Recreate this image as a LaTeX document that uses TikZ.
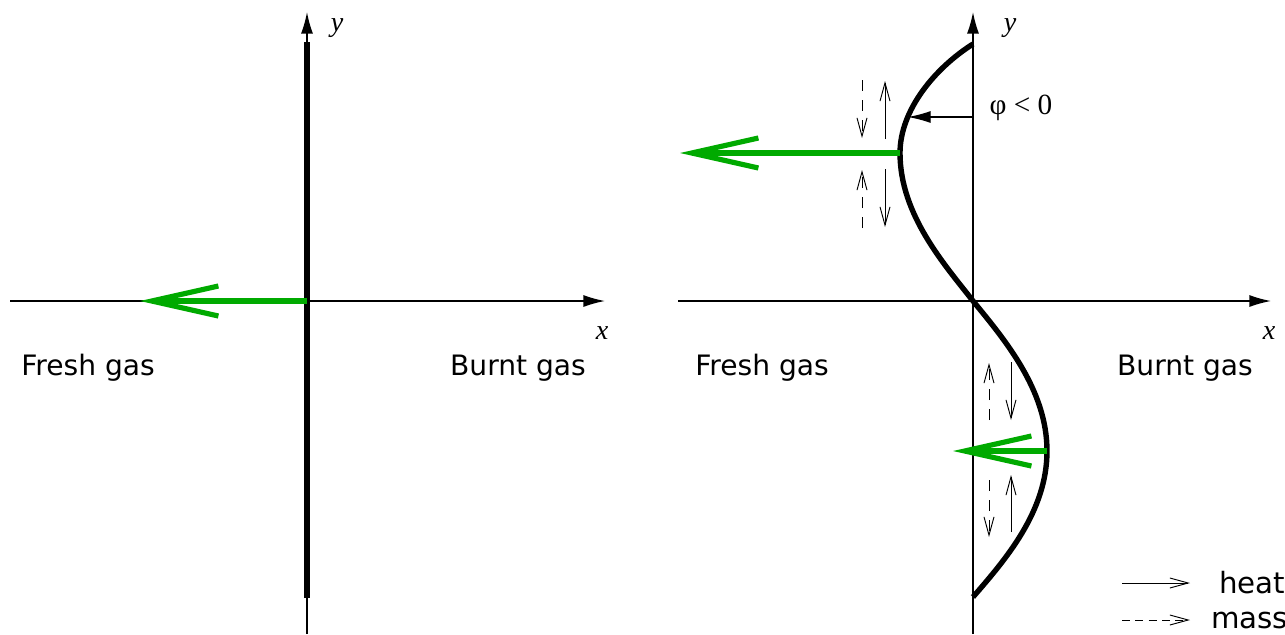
\documentclass[tikz,border=0pt]{standalone}
\usepackage{fontspec}
\setmainfont{Liberation Serif}
\setsansfont{DejaVu Sans}
\usepackage{xcolor}
\usepackage{tikz}
\usetikzlibrary{arrows.meta, positioning, calc}

\definecolor{flowgreen}{RGB}{0,170,0}

\begin{document}
\begin{tikzpicture}[
    x=0.3mm, y=-0.3mm,
    axis/.style={line width=1.2pt, -{Latex[length=6.5mm, width=3.6mm]}},
    flame/.style={line width=4.6pt},
    flow/.style={draw=flowgreen, line width=4.4pt, -{Straight Barb[length=20mm, width=9mm]}},
    heat/.style={line width=0.8pt, -{Straight Barb[length=5.5mm, width=3mm]}},
    mass/.style={heat, dash pattern=on 3.4mm off 2.6mm},
    legmass/.style={heat, dash pattern=on 2.4mm off 1.6mm},
    speed/.style={line width=0.9pt, -{Latex[length=6.8mm, width=3.6mm]}},
    gaslabel/.style={font=\sffamily\fontsize{24}{28}\selectfont, inner sep=0pt},
    axlabel/.style={font=\itshape\fontsize{24}{28}\selectfont, inner sep=0pt},
    leglabel/.style={font=\sffamily\fontsize{25}{28}\selectfont, inner sep=0pt, anchor=west}
]
\useasboundingbox (0,0) rectangle (1285,634);

% planar flame
\coordinate (Lbot) at (307,634);
\coordinate (Ltop) at (307,12);
\coordinate (Lleft) at (10,301);
\coordinate (Lright) at (605,301);
\coordinate (Lflamebot) at (307,598);
\coordinate (Lflametop) at (307,42);
\coordinate (Lorig) at (307,301);
\coordinate (Lfresh) at (140,301);

\draw[axis] (Lbot) -- (Ltop);
\draw[axis] (Lleft) -- (Lright);
\draw[flame] (Lflamebot) -- (Lflametop);
\draw[flow] (Lorig) -- (Lfresh);

\node[axlabel] (Lx) at (602,333) {x};
\node[axlabel] (Ly) at (337,28) {y};
\node[gaslabel] (Lfreshlab) at (88,368) {Fresh gas};
\node[gaslabel] (Lburntlab) at (518,368) {Burnt gas};

% wrinkled flame
\coordinate (Rbot) at (973,634);
\coordinate (Rtop) at (973,12);
\coordinate (Rleft) at (678,301);
\coordinate (Rright) at (1271,301);

\draw[axis] (Rbot) -- (Rtop);
\draw[axis] (Rleft) -- (Rright);
\draw[flame] (973,44) .. controls (935,68) and (900,110) .. (900,153)
    .. controls (900,215) and (945,265) .. (973,301)
    .. controls (1005,340) and (1047,390) .. (1047,451)
    .. controls (1047,512) and (1005,560) .. (973,597);

\coordinate (Rcrest) at (900,153);
\coordinate (Rcresttip) at (680,153);
\coordinate (Rtrough) at (1047,451);
\coordinate (Rtroughtip) at (953,451);
\draw[flow] (Rcrest) -- (Rcresttip);
\draw[flow] (Rtrough) -- (Rtroughtip);

\coordinate (Sfrom) at (973,117);
\coordinate (Sto) at (908,117);
\draw[speed] (Sfrom) -- (Sto);
\node[font=\fontsize{25}{28}\selectfont, inner sep=0pt] (Slab) at (1021,108) {φ < 0};

% heat and mass fluxes near the crest
\coordinate (m1a) at (862,80);   \coordinate (m1b) at (862,138);
\coordinate (h1a) at (885,139);  \coordinate (h1b) at (885,81);
\coordinate (m2a) at (862,228);  \coordinate (m2b) at (862,170);
\coordinate (h2a) at (885,169);  \coordinate (h2b) at (885,227);
\draw[mass] (m1a) -- (m1b);
\draw[heat] (h1a) -- (h1b);
\draw[mass] (m2a) -- (m2b);
\draw[heat] (h2a) -- (h2b);

% heat and mass fluxes near the trough
\coordinate (m3a) at (989,420);  \coordinate (m3b) at (989,363);
\coordinate (h3a) at (1011,362); \coordinate (h3b) at (1011,420);
\coordinate (m4a) at (989,480);  \coordinate (m4b) at (989,537);
\coordinate (h4a) at (1011,532); \coordinate (h4b) at (1011,475);
\draw[mass] (m3a) -- (m3b);
\draw[heat] (h3a) -- (h3b);
\draw[mass] (m4a) -- (m4b);
\draw[heat] (h4a) -- (h4b);

\node[axlabel] (Rx) at (1269,333) {x};
\node[axlabel] (Ry) at (1010,28) {y};
\node[gaslabel] (Rfreshlab) at (762,368) {Fresh gas};
\node[gaslabel] (Rburntlab) at (1185,368) {Burnt gas};

% legend
\coordinate (legha) at (1122,583);
\coordinate (leghb) at (1190,583);
\coordinate (legma) at (1122,620);
\coordinate (legmb) at (1190,620);
\draw[heat] (legha) -- (leghb);
\draw[legmass] (legma) -- (legmb);
\node[leglabel] (legheat) at (1219,583) {heat};
\node[leglabel] (legmass) at (1211,620) {mass};
\end{tikzpicture}
\end{document}
